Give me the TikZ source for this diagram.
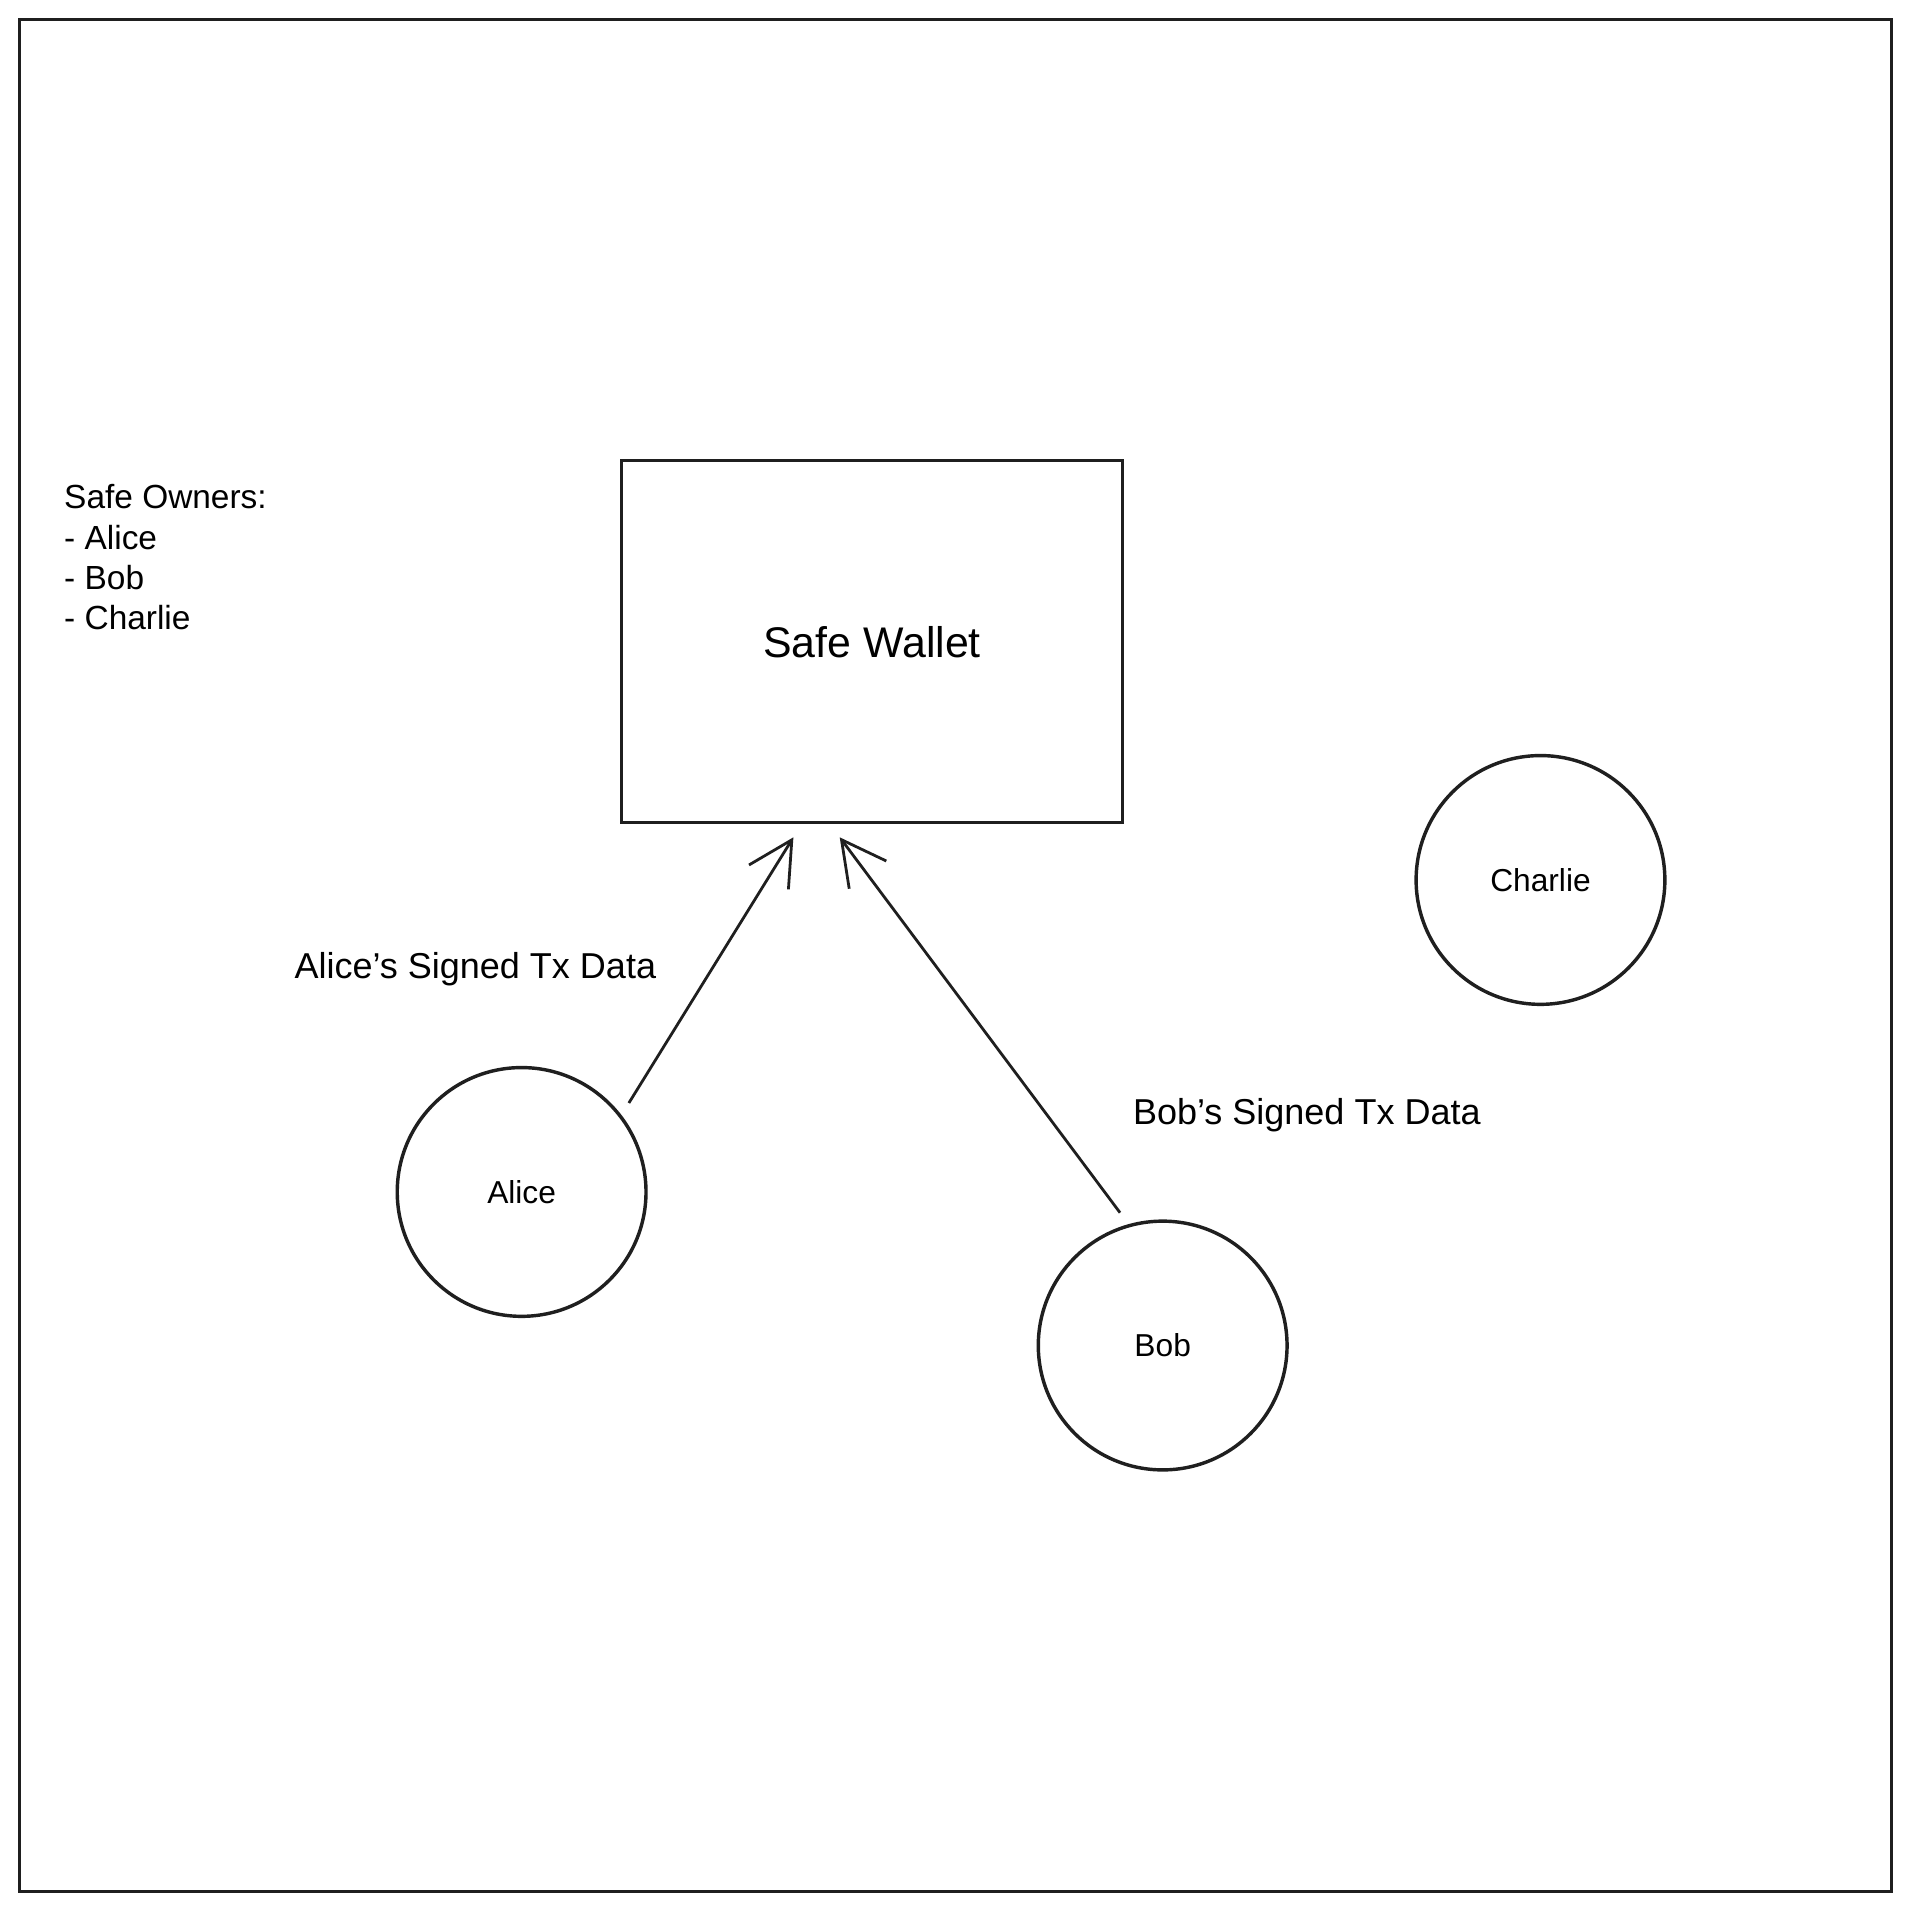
\documentclass[tikz,border=0pt]{standalone}
\usepackage{fontspec}
\setmainfont{Liberation Sans}
\usetikzlibrary{arrows.meta}
\begin{document}
\begin{tikzpicture}[x=0.01cm,y=-0.01cm,
  box/.style={draw=black!88,line width=0.8pt,minimum width=4.11cm,minimum height=2.97cm,inner sep=0pt},
  owner/.style={draw=black!88,circle,line width=0.8pt,minimum size=2.04cm,inner sep=0pt,font=\fontsize{7.4}{9}\selectfont},
  lbl/.style={font=\fontsize{8.4}{10}\selectfont,inner sep=0pt,anchor=west},
  sig/.style={draw=black!88,line width=0.65pt,-{Straight Barb[length=0.36cm,width=0.38cm,line width=0.65pt]}}]
\useasboundingbox (0,0) rectangle (1568,1568);
\fill[white] (0,0) rectangle (1568,1568);
\draw[black!88,line width=0.5pt] (16,16) rectangle (1552,1552);
\node[box,font=\fontsize{10}{12}\selectfont] (safe) at (715.5,526.5) {Safe Wallet};
\node[owner] (alice) at (428,978) {Alice};
\node[owner] (bob) at (954,1104) {Bob};
\node[owner] (charlie) at (1264,722) {Charlie};
\node[anchor=north west,inner sep=0pt,align=left,font=\fontsize{7.8}{9.4}\selectfont] (owners) at (52,397) {Safe Owners:\\- Alice\\- Bob\\- Charlie};
\node[lbl] (alab) at (241,795) {Alice's Signed Tx Data};
\node[lbl] (blab) at (929,915) {Bob's Signed Tx Data};
\coordinate (as) at (516,905);
\coordinate (ae) at (651,687);
\coordinate (bs) at (919,995);
\coordinate (be) at (689,687);
\draw[sig] (as) -- (ae);
\draw[sig] (bs) -- (be);
\end{tikzpicture}
\end{document}
